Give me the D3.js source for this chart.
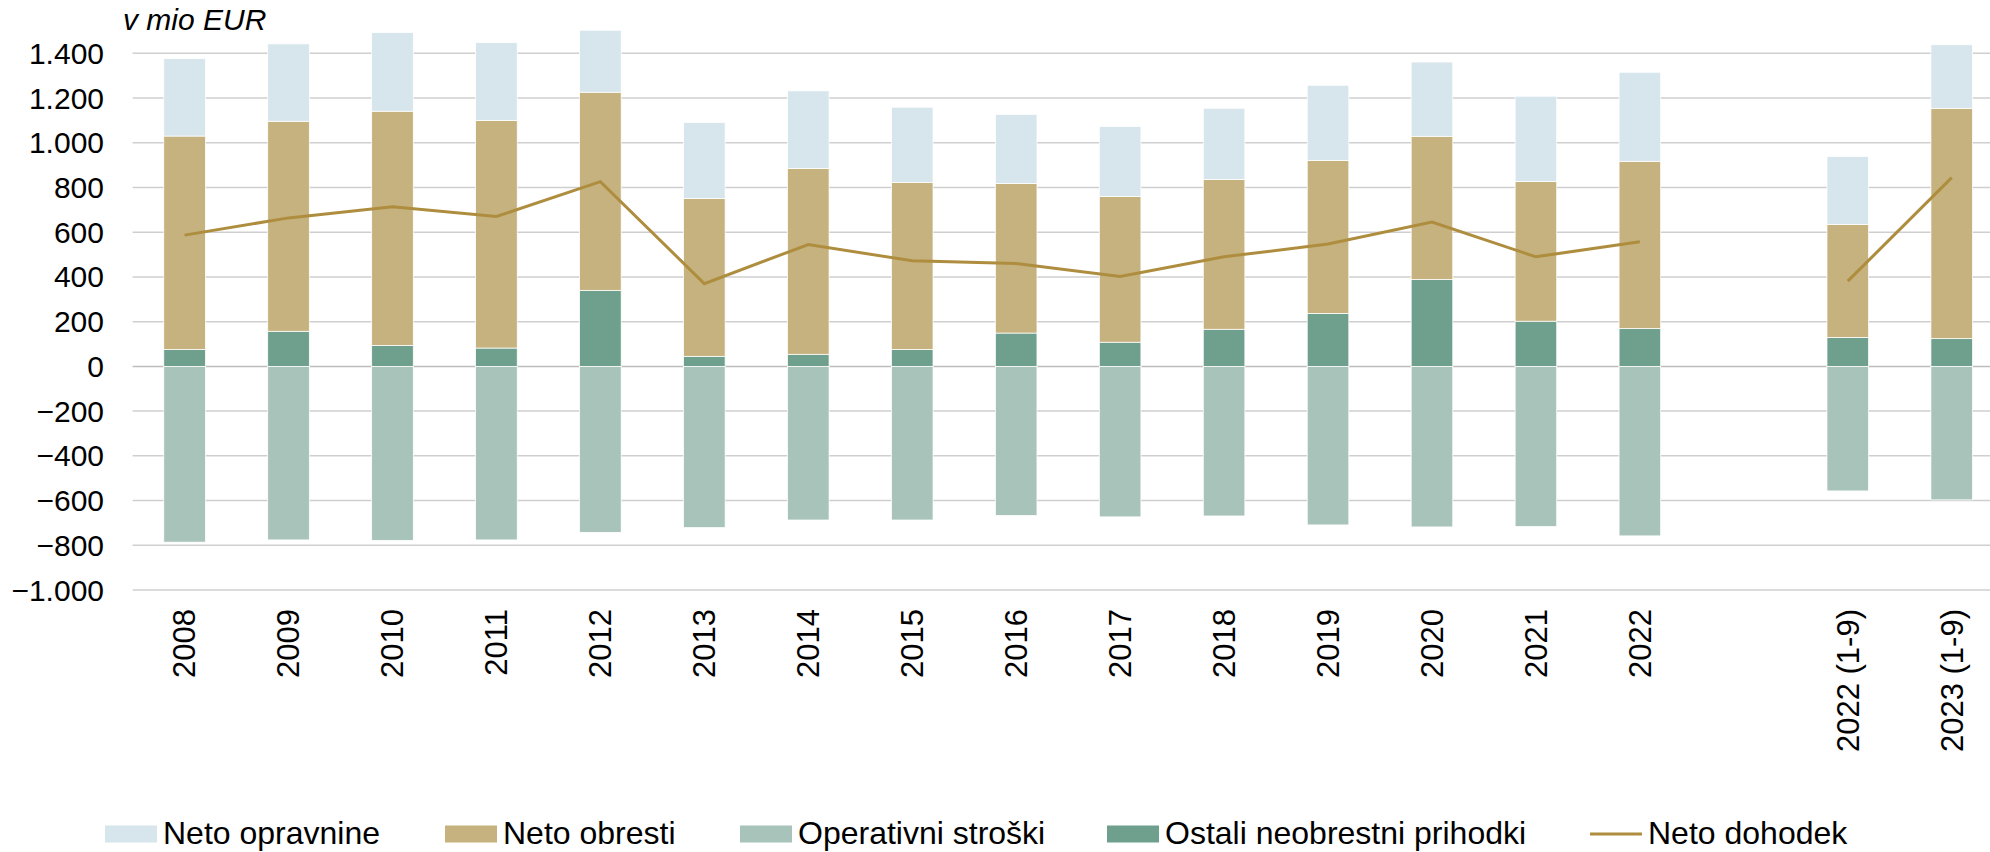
<!DOCTYPE html>
<html>
<head>
<meta charset="utf-8">
<script src="https://cdn.jsdelivr.net/npm/d3@7"></script>
<style>
  body { margin: 0; background: #fff; }
  text { font-family: "Liberation Sans", Arial, sans-serif; fill: #000; }
</style>
</head>
<body>
<div id="chart"></div>
<script>
// categories, the blank one is the gap between 2022 and the 1-9 months
var categories = ['2008', '2009', '2010', '2011', '2012', '2013', '2014', '2015', '2016', '2017',
  '2018', '2019', '2020', '2021', '2022', '', '2022 (1-9)', '2023 (1-9)']

var netoOpravnine = [346, 346, 352, 348, 277, 340, 347, 336, 309, 313, 318, 336, 332, 381, 398, null, 304, 284]
var netoObresti = [955, 939, 1047, 1018, 886, 706, 831, 747, 669, 652, 670, 684, 641, 625, 748, null, 506, 1030]
var operativniStroski = [-786, -776, -778, -776, -742, -721, -687, -687, -667, -673, -669, -709, -718, -716, -758, null, -557, -597]
var ostaliPrihodki = [75, 157, 94, 82, 340, 45, 54, 76, 149, 108, 166, 237, 388, 202, 169, null, 129, 124]
var netoDohodek = [587, 664, 714, 670, 826, 370, 545, 472, 460, 402, 490, 547, 645, 490, 557, null, 381, 844]

var yTicks = [-1000, -800, -600, -400, -200, 0, 200, 400, 600, 800, 1000, 1200, 1400]

var series = [
  {key: 'ostali', name: 'Ostali neobrestni prihodki', values: ostaliPrihodki, color: '#6f9f8d'},
  {key: 'obresti', name: 'Neto obresti', values: netoObresti, color: '#c6b27f'},
  {key: 'opravnine', name: 'Neto opravnine', values: netoOpravnine, color: '#d7e5ec'},
  {key: 'operativni', name: 'Operativni stroški', values: operativniStroski, color: '#a8c3b9'}
]
var lineColor = '#ae8e3e'

var width = 1990, height = 852

var svg = d3.select('#chart').append('svg')
  .attr('width', width).attr('height', height)

var x = d3.scaleBand().domain(categories.map(function(d, i){ return i }))
  .range([132.6, 2003.7]).paddingInner(0.6).paddingOuter(0.3)
var y = d3.scaleLinear().domain([-1000, 1400]).range([590, 53.3])

// gridlines + y labels
var grid = svg.append('g')
grid.selectAll('line').data(yTicks).enter().append('line')
  .attr('x1', x.range()[0]).attr('x2', width)
  .attr('y1', function(d){ return y(d) }).attr('y2', function(d){ return y(d) })
  .attr('stroke', function(d){ return d == 0 ? '#bdbdbd' : '#cfcfcf' })
  .attr('stroke-width', 1.5)

var fmt = function(d){ return d3.format(',')(d).replace(/,/g, '.') }
grid.selectAll('text').data(yTicks).enter().append('text')
  .attr('x', 104).attr('y', function(d){ return y(d) })
  .attr('dy', '0.35em').attr('text-anchor', 'end')
  .style('font-size', '30px')
  .text(fmt)

svg.append('text').attr('x', 123).attr('y', 30)
  .style('font-size', '30px').style('font-style', 'italic')
  .text('v mio EUR')

// stacked bars
var rows = categories.map(function(c, i){
  var r = {i: i}
  series.forEach(function(s){ r[s.key] = s.values[i] || 0 })
  return r
})
var stack = d3.stack().keys(series.map(function(s){ return s.key }))
  .offset(d3.stackOffsetDiverging)(rows)

svg.selectAll('g.layer').data(stack).enter().append('g')
  .attr('class', 'layer')
  .attr('fill', function(d, i){ return series[i].color })
  .selectAll('rect').data(function(d){ return d.filter(function(e){ return e[1] != e[0] }) })
  .enter().append('rect')
  .attr('x', function(d){ return x(d.data.i) })
  .attr('width', x.bandwidth())
  .attr('y', function(d){ return y(Math.max(d[0], d[1])) })
  .attr('height', function(d){ return Math.abs(y(d[0]) - y(d[1])) })
  .attr('stroke', '#fff').attr('stroke-width', 0.75)

// neto dohodek line, broken at the blank category
var line = d3.line()
  .defined(function(d){ return d != null })
  .x(function(d, i){ return x(i) + x.bandwidth() / 2 })
  .y(function(d){ return y(d) })

svg.append('path').datum(netoDohodek)
  .attr('d', line)
  .attr('fill', 'none').attr('stroke', lineColor).attr('stroke-width', 3)

// x labels
svg.selectAll('text.xlab').data(categories).enter().append('text')
  .attr('class', 'xlab')
  .attr('transform', function(d, i){ return 'translate(' + (x(i) + x.bandwidth() / 2) + ',609) rotate(-90)' })
  .attr('dy', '0.35em').attr('text-anchor', 'end')
  .style('font-size', '31px')
  .text(function(d){ return d })

// legend
var legendItems = [
  {name: 'Neto opravnine', color: series[2].color},
  {name: 'Neto obresti', color: series[1].color},
  {name: 'Operativni stroški', color: series[3].color},
  {name: 'Ostali neobrestni prihodki', color: series[0].color},
  {name: 'Neto dohodek', color: lineColor, line: true}
]
var legendX = [105, 445, 740, 1107, 1590]

var lg = svg.selectAll('g.legend').data(legendItems).enter().append('g')
  .attr('class', 'legend')
  .attr('transform', function(d, i){ return 'translate(' + legendX[i] + ',834)' })

lg.filter(function(d){ return !d.line }).append('rect')
  .attr('x', 0).attr('y', -8.5).attr('width', 52).attr('height', 17)
  .attr('fill', function(d){ return d.color })
lg.filter(function(d){ return d.line }).append('line')
  .attr('x1', 0).attr('x2', 52).attr('y1', 0).attr('y2', 0)
  .attr('stroke', function(d){ return d.color }).attr('stroke-width', 3)
lg.append('text')
  .attr('x', 58).attr('y', 10)
  .style('font-size', '32px')
  .text(function(d){ return d.name })
</script>
</body>
</html>
